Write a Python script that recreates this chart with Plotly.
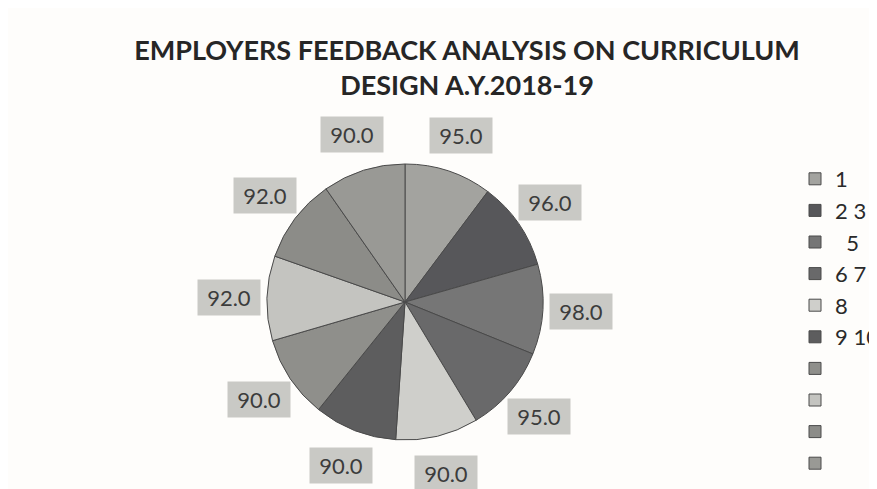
import math
import plotly.graph_objects as go

# ---- data ----
slice_ids = ["1", "2 3", "\u00a0\u00a05", "6 7", "8", "9 10",
             "\u00a0", "\u00a0\u00a0\u00a0", "\u00a0\u00a0\u00a0\u00a0", "\u00a0\u00a0\u00a0\u00a0\u00a0"]
values = [95.0, 96.0, 98.0, 95.0, 90.0, 90.0, 90.0, 92.0, 92.0, 90.0]
slice_colors = ["#a3a39f", "#57575a", "#767676", "#69696a", "#cfcfcb",
                "#5d5d5e", "#8f8f8b", "#c4c4c0", "#8c8c88", "#999995"]
title_text = "EMPLOYERS FEEDBACK ANALYSIS ON CURRICULUM<br>DESIGN A.Y.2018-19"

OFF = 8                      # page body offset of the plot div
W, H = 877 - OFF, 489 - OFF  # figure fits the window without scrollbars
cx, cy, R = 405 - OFF, 302 - OFF, 138   # pie centre / radius in figure pixels
label_r = 176

fig = go.Figure()
fig.add_trace(go.Pie(
    labels=slice_ids,
    values=values,
    sort=False,
    direction="clockwise",
    rotation=0,
    textinfo="none",
    hoverinfo="label+value",
    marker=dict(colors=slice_colors, line=dict(color="#4a4a4a", width=1)),
    domain=dict(x=[(cx - R) / W, (cx + R) / W], y=[(H - cy - R) / H, (H - cy + R) / H]),
))

# value boxes around the pie, placed at each slice's mid-angle
total = sum(values)
cum = 0.0
annotations = []
for v in values:
    mid = (cum + v / 2) / total * 2 * math.pi
    cum += v
    px = cx + label_r * math.sin(mid)
    py = cy - label_r * math.cos(mid)
    annotations.append(dict(
        x=px / W, y=1 - py / H, xref="paper", yref="paper",
        text=f"{v:.1f}", showarrow=False,
        font=dict(family="Lato, Liberation Sans, sans-serif", size=22, color="#3c3c3c"),
        bgcolor="#c9c9c5", width=60, height=33,
        xanchor="center", yanchor="middle",
    ))

fig.update_layout(
    width=W, height=H,
    margin=dict(l=0, r=0, t=0, b=0, autoexpand=False),
    paper_bgcolor="#fefdfb",
    plot_bgcolor="#fefdfb",
    title=dict(text=title_text, x=(467 - OFF) / W, xanchor="center", y=1 - 52 / H, yanchor="top",
               font=dict(family="Lato, Open Sans, sans-serif", size=27, color="#262626", weight="bold")),
    showlegend=True,
    legend=dict(xref="paper", yref="paper", x=787 / W, xanchor="left",
                y=1 - 150 / H, yanchor="top",
                font=dict(family="Lato, Liberation Sans, sans-serif", size=22, color="#2a2a2a"),
                bgcolor="rgba(0,0,0,0)", tracegroupgap=0),
    annotations=annotations,
)

fig.write_html("out.html")
